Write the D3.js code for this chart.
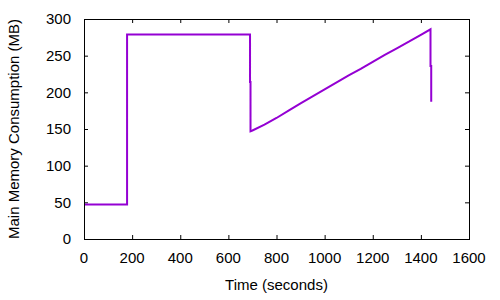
<!DOCTYPE html>
<html>
<head>
<meta charset="utf-8">
<script src="https://cdn.jsdelivr.net/npm/d3@7"></script>
<style>
  body { margin: 0; background: #fff; }
  text { font-family: "Liberation Sans", Arial, sans-serif; font-size: 15px; fill: #000; }
</style>
</head>
<body>
<div id="chart"></div>
<script>
// memory trace
var times = [0, 179, 179, 690, 690, 692, 692, 700, 750, 800, 850, 900, 950, 1000,
  1050, 1100, 1150, 1200, 1250, 1300, 1350, 1400, 1440, 1440, 1443, 1443];
var memory = [47, 47, 279, 279, 214, 214, 147, 148, 156, 165, 175, 185, 194.5, 204,
  213.5, 223, 232, 241.5, 251, 260, 269, 278.5, 286, 236, 236, 187];
var xTicks = [0, 200, 400, 600, 800, 1000, 1200, 1400, 1600];
var yTicks = [0, 50, 100, 150, 200, 250, 300];

var width = 500, height = 300;
var margin = { top: 19, right: 31, bottom: 61, left: 84 };
var w = width - margin.left - margin.right,
  h = height - margin.top - margin.bottom;

var svg = d3.select("#chart").append("svg")
  .attr("width", width)
  .attr("height", height);

var g = svg.append("g")
  .attr("transform", "translate(" + margin.left + "," + margin.top + ")");

var x = d3.scaleLinear().domain([0, 1600]).range([0, w]);
var y = d3.scaleLinear().domain([0, 300]).range([h, 0]);

// inward ticks on all four sides, gnuplot style
var tl = 4;
g.append("g").selectAll("line").data(xTicks).enter().append("line")
  .attr("x1", d => x(d) + 0.5).attr("x2", d => x(d) + 0.5)
  .attr("y1", h).attr("y2", h - tl).attr("stroke", "#000");
g.append("g").selectAll("line").data(xTicks).enter().append("line")
  .attr("x1", d => x(d) + 0.5).attr("x2", d => x(d) + 0.5)
  .attr("y1", 0).attr("y2", tl).attr("stroke", "#000");
g.append("g").selectAll("line").data(yTicks).enter().append("line")
  .attr("x1", 0).attr("x2", tl)
  .attr("y1", d => y(d) + 0.5).attr("y2", d => y(d) + 0.5).attr("stroke", "#000");
g.append("g").selectAll("line").data(yTicks).enter().append("line")
  .attr("x1", w).attr("x2", w - tl)
  .attr("y1", d => y(d) + 0.5).attr("y2", d => y(d) + 0.5).attr("stroke", "#000");

// tick labels
g.append("g").selectAll("text").data(xTicks).enter().append("text")
  .attr("x", d => x(d))
  .attr("y", h + 24)
  .attr("text-anchor", "middle")
  .text(d => d);
g.append("g").selectAll("text").data(yTicks).enter().append("text")
  .attr("x", -13)
  .attr("y", d => y(d))
  .attr("dy", "0.35em")
  .attr("text-anchor", "end")
  .text(d => d);

// the trace
var pts = times.map((t, i) => [t, memory[i]]);
var line = d3.line().x(d => x(d[0])).y(d => y(d[1]));
g.append("path")
  .datum(pts)
  .attr("d", line)
  .attr("fill", "none")
  .attr("stroke", "#9400d3")
  .attr("stroke-width", 2);

// border
g.append("rect")
  .attr("x", 0.5).attr("y", 0.5)
  .attr("width", w).attr("height", h)
  .attr("fill", "none")
  .attr("stroke", "#000");

// axis titles
svg.append("text")
  .attr("x", margin.left + w / 2)
  .attr("y", 290)
  .attr("text-anchor", "middle")
  .text("Time (seconds)");
svg.append("text")
  .attr("transform", "translate(19," + (margin.top + h / 2) + ") rotate(-90)")
  .attr("text-anchor", "middle")
  .text("Main Memory Consumption (MB)");
</script>
</body>
</html>
